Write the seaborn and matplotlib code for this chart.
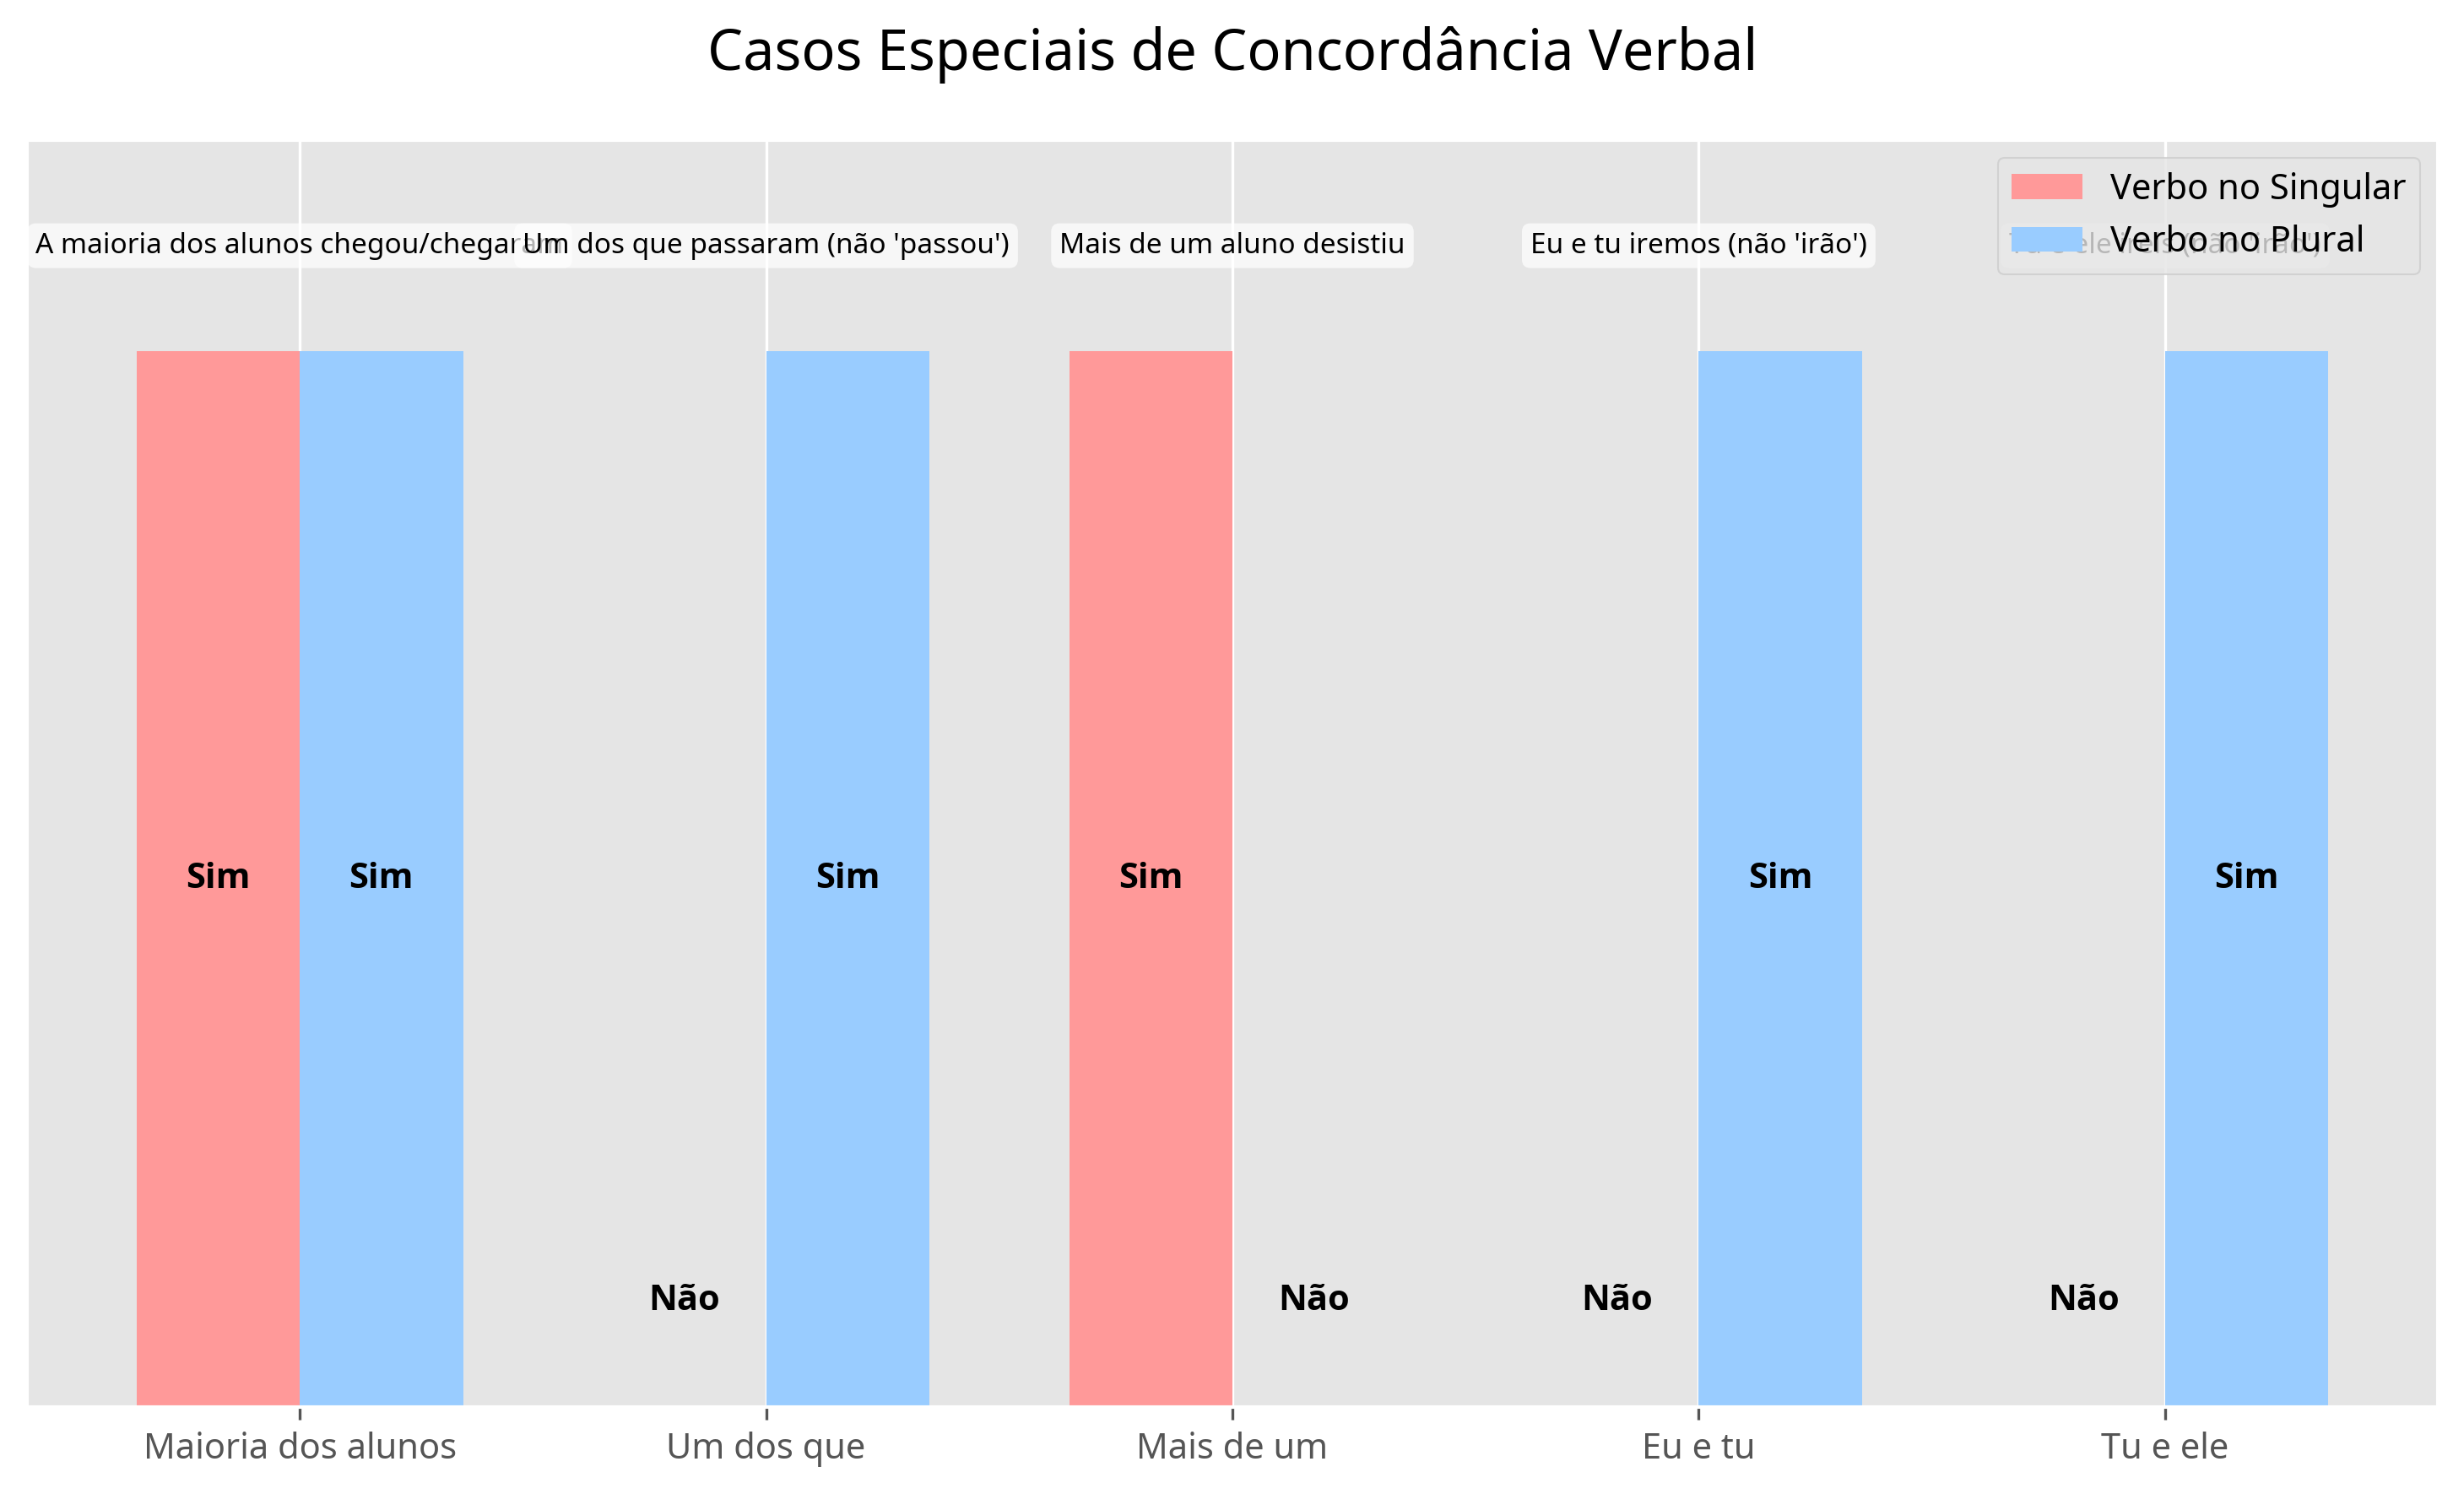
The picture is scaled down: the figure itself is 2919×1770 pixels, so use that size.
import numpy as np
import pandas as pd
import matplotlib
matplotlib.use("Agg")
import matplotlib.pyplot as plt
import seaborn as sns

# dados do gráfico
casos = ["Maioria dos alunos", "Um dos que", "Mais de um", "Eu e tu", "Tu e ele"]
singular = [1, 0, 1, 0, 0]
plural = [1, 1, 0, 1, 1]
exemplos = ["A maioria dos alunos chegou/chegaram",
            "Um dos que passaram (não 'passou')",
            "Mais de um aluno desistiu",
            "Eu e tu iremos (não 'irão')",
            "Tu e ele ireis (não 'irão')"]
series = ["Verbo no Singular", "Verbo no Plural"]
cores = ["#FF9999", "#99CCFF"]

plt.style.use("ggplot")
plt.rcParams["font.family"] = ["Noto Sans", "DejaVu Sans"]

df = pd.DataFrame({"Caso": casos * 2,
                   "Tipo": [series[0]] * len(casos) + [series[1]] * len(casos),
                   "Valor": singular + plural})

fig = plt.figure(figsize=(2919 / 300, 1770 / 300), dpi=300)
ax = fig.add_axes([32 / 2919, 103 / 1770, (2888 - 32) / 2919, (1667 - 166) / 1770])

sns.barplot(data=df, x="Caso", y="Valor", hue="Tipo", order=casos,
            hue_order=series, palette=cores, width=0.7, gap=0,
            saturation=1, linewidth=0, legend=False, ax=ax)

# rótulos Sim / Não
for cont in ax.containers:
    for bar in cont:
        h = bar.get_height()
        ax.text(bar.get_x() + bar.get_width() / 2, h / 2 if h > 0 else 0.1,
                "Sim" if h > 0 else "Não", ha="center", va="center",
                fontsize=10, fontweight="bold", color="black",
                family=["Open Sans", "Noto Sans", "DejaVu Sans"])

# exemplos acima das barras
for i, ex in enumerate(exemplos):
    ax.text(i, 1.1, ex, ha="center", va="center", fontsize=8,
            bbox=dict(boxstyle="round,pad=0.3", facecolor="white",
                      edgecolor="none", alpha=0.7))

n = len(casos)
ax.set_xlim(-0.35 - 0.05 * (n - 1 + 0.7), n - 1 + 0.35 + 0.05 * (n - 1 + 0.7))
ax.set_ylim(0, 1.2)
ax.set_yticks([])
ax.grid(True, axis="x")
ax.set_xlabel("")
ax.set_ylabel("")
ax.tick_params(axis="x", labelsize=10, colors="#555555")
ax.set_title("Casos Especiais de Concordância Verbal", fontsize=16, pad=20)

ax.legend(ax.containers, series, loc="upper right", fontsize=10)

fig.savefig("out.png", dpi=300)
